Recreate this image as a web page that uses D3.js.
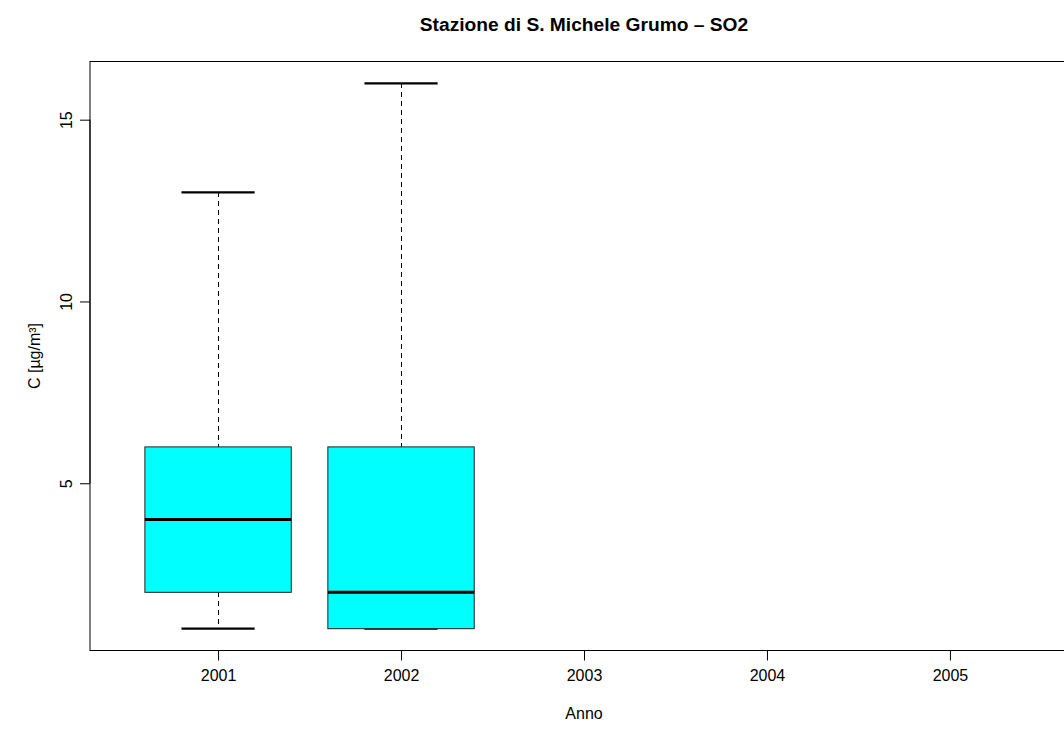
<!DOCTYPE html>
<html>
<head>
<meta charset="utf-8">
<script src="https://cdn.jsdelivr.net/npm/d3@7"></script>
<style>
  html, body { margin: 0; padding: 0; background: #fff; overflow: hidden; }
  svg { display: block; font-family: "Liberation Sans", Arial, sans-serif; }
</style>
</head>
<body>
<svg id="chart" width="1064" height="729"></svg>
<script>
// ---- Data ----
const years = ["2001", "2002", "2003", "2004", "2005"];
const whiskerLow = [1, 1, null, null, null];
const q1 = [2, 1, null, null, null];
const median = [4, 2, null, null, null];
const q3 = [6, 6, null, null, null];
const whiskerHigh = [13, 16, null, null, null];
const yTicks = [5, 10, 15];

const title = "Stazione di S. Michele Grumo \u2013 SO2";
const xLabel = "Anno";
const yLabel = "C [\u00b5g/m\u00b3]";

// ---- Layout ----
const svg = d3.select("#chart");
const pLeft = 90, pRight = 1078, pTop = 61.5, pBottom = 650.5;

const x = d3.scaleLinear().domain([0.3, years.length + 0.7]).range([pLeft, pRight]);
const y = d3.scaleLinear().domain([0.4, 16.6]).range([pBottom, pTop]);

const boxW = 0.8, capW = 0.4;

// plot frame
svg.append("rect")
  .attr("x", pLeft).attr("y", pTop)
  .attr("width", pRight - pLeft).attr("height", pBottom - pTop)
  .attr("fill", "none").attr("stroke", "#000").attr("stroke-width", 1);

const data = years.map((yr, i) => ({
  i: i + 1, yr, lo: whiskerLow[i], q1: q1[i], med: median[i], q3: q3[i], hi: whiskerHigh[i]
})).filter(d => d.med != null);

const g = svg.append("g");
data.forEach(d => {
  // whiskers (dashed)
  g.append("line").attr("x1", x(d.i)).attr("x2", x(d.i))
    .attr("y1", y(d.hi)).attr("y2", y(d.q3))
    .attr("stroke", "#000").attr("stroke-dasharray", "5,4")
    .attr("shape-rendering", "crispEdges");
  g.append("line").attr("x1", x(d.i)).attr("x2", x(d.i))
    .attr("y1", y(d.q1)).attr("y2", y(d.lo))
    .attr("stroke", "#000").attr("stroke-dasharray", "5,4")
    .attr("shape-rendering", "crispEdges");
  // caps
  [d.lo, d.hi].forEach(v => {
    g.append("line").attr("x1", x(d.i - capW / 2)).attr("x2", x(d.i + capW / 2))
      .attr("y1", y(v)).attr("y2", y(v))
      .attr("stroke", "#000").attr("stroke-width", 2.2);
  });
  // box
  g.append("rect")
    .attr("x", x(d.i - boxW / 2)).attr("y", y(d.q3))
    .attr("width", x(d.i + boxW / 2) - x(d.i - boxW / 2))
    .attr("height", y(d.q1) - y(d.q3))
    .attr("fill", "#00ffff").attr("stroke", "#222").attr("stroke-width", 1);
  // median
  g.append("line").attr("x1", x(d.i - boxW / 2)).attr("x2", x(d.i + boxW / 2))
    .attr("y1", y(d.med)).attr("y2", y(d.med))
    .attr("stroke", "#000").attr("stroke-width", 3);
});

// x axis
const xAxis = d3.axisBottom(x)
  .tickValues(years.map((_, i) => i + 1))
  .tickFormat((_, i) => years[i])
  .tickSize(10).tickPadding(9);
const gx = svg.append("g").attr("transform", `translate(0,${pBottom})`).call(xAxis);
gx.select(".domain").attr("d", `M${x(1)},0H${x(years.length)}`).attr("stroke", "#000");
gx.selectAll("text").attr("font-size", 16).attr("fill", "#000")
  .attr("font-family", "Liberation Sans, Arial, sans-serif");
gx.selectAll("line").attr("stroke", "#000");

// y axis
const yAxis = d3.axisLeft(y).tickValues(yTicks).tickSize(10).tickFormat(d3.format("d"));
const gy = svg.append("g").attr("transform", `translate(${pLeft},0)`).call(yAxis);
gy.select(".domain").attr("d", `M0,${y(yTicks[0])}V${y(yTicks[yTicks.length - 1])}`).attr("stroke", "#000");
gy.selectAll("line").attr("stroke", "#000");
gy.selectAll("text")
  .attr("font-size", 16).attr("fill", "#000")
  .attr("font-family", "Liberation Sans, Arial, sans-serif")
  .attr("x", null).attr("dy", null)
  .attr("text-anchor", "middle")
  .attr("transform", "translate(-18,0) rotate(-90)");

// title
svg.append("text").attr("x", (pLeft + pRight) / 2).attr("y", 31)
  .attr("text-anchor", "middle").attr("font-size", 19.2).attr("font-weight", "bold")
  .text(title);

// x label
svg.append("text").attr("x", (pLeft + pRight) / 2).attr("y", 719)
  .attr("text-anchor", "middle").attr("font-size", 16).text(xLabel);

// y label
svg.append("text")
  .attr("transform", `translate(40,${(pTop + pBottom) / 2}) rotate(-90)`)
  .attr("text-anchor", "middle").attr("font-size", 16).text(yLabel);
</script>
</body>
</html>
